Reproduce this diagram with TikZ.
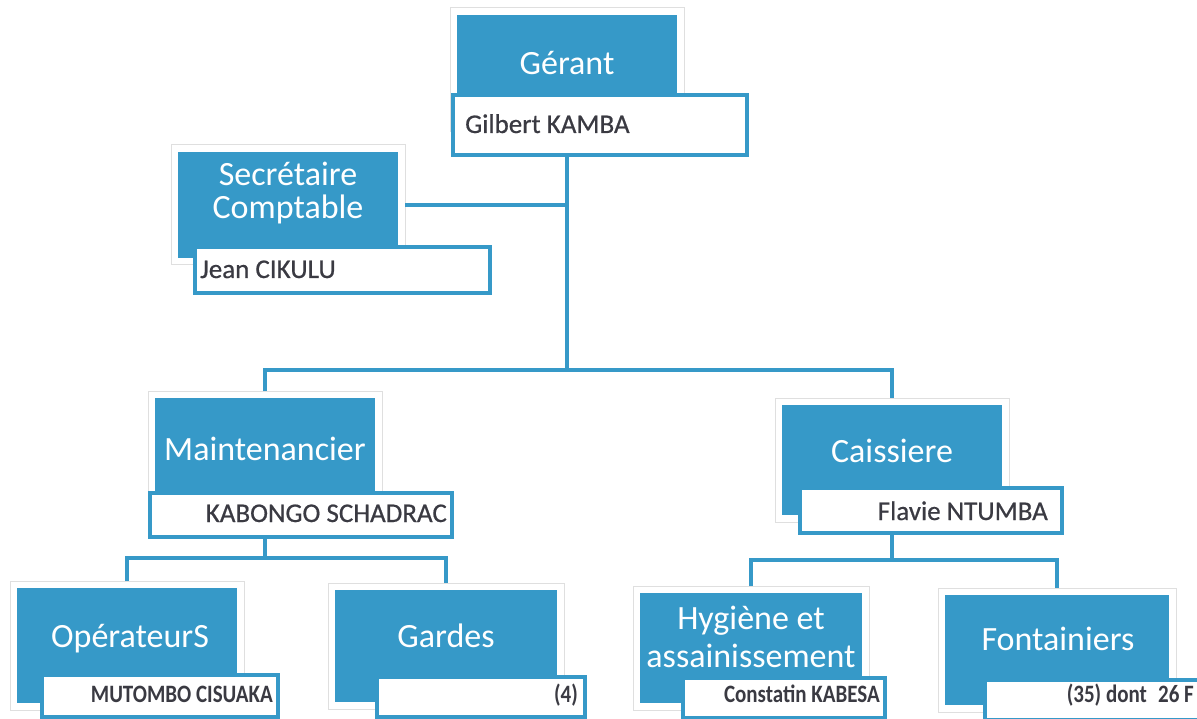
\documentclass[tikz,border=0pt]{standalone}
\usepackage{fontspec}
\setmainfont{Carlito}
\newfontfamily\condfont{Carlito}[FakeStretch=0.84]
\newfontfamily\namefont{Carlito}[FakeBold=0.6]
\definecolor{orgblue}{RGB}{54,153,200}
\definecolor{namecol}{RGB}{58,58,66}
\begin{document}
\begin{tikzpicture}[x=1pt,y=-1pt,
  frame/.style={draw=gray!25, line width=1pt, fill=white, inner sep=0pt, outer sep=0pt, anchor=north west},
  bluebox/.style={fill=orgblue, draw=none, inner sep=0pt, outer sep=0pt, anchor=north west},
  namebox/.style={fill=white, draw=orgblue, line width=3.5pt, inner sep=0pt, outer sep=0pt, anchor=north west},
  titletext/.style={text=white, font=\fontsize{34}{36}\selectfont, align=center, inner sep=0pt, anchor=base},
  namel/.style={text=namecol, font=\namefont\fontsize{27}{30}\selectfont, inner sep=0pt, anchor=base west},
  namer/.style={text=namecol, font=\namefont\fontsize{27}{30}\selectfont, inner sep=0pt, anchor=base east},
  smallname/.style={text=namecol, font=\condfont\bfseries\fontsize{25}{28}\selectfont, inner sep=0pt, anchor=base east},
  link/.style={draw=orgblue, line width=4.5pt, line join=miter}
]
\useasboundingbox[fill=white] (0,0) rectangle (1197,719);

% ---------- Gerant ----------
\node[frame, minimum width=234pt, minimum height=124pt] (gerF) at (450,8) {};
\node[bluebox, minimum width=220pt, minimum height=110pt] (gerB) at (457,15) {};
\node[namebox, minimum width=294pt, minimum height=60pt] (gerN) at (453,95) {};
\node[titletext] (gerT) at (567,75) {Gérant};
\node[namel] (gerP) at (465,133) {Gilbert KAMBA};

% ---------- Secretaire ----------
\node[frame, minimum width=234pt, minimum height=120pt] (secF) at (171,145) {};
\node[bluebox, minimum width=220pt, minimum height=106pt] (secB) at (178,152) {};
\node[namebox, minimum width=295pt, minimum height=46pt] (secN) at (195,247) {};
\node[titletext, font=\fontsize{34}{33}\selectfont, anchor=center] (secT) at (288,193) {Secrétaire\\Comptable};
\node[namel] (secP) at (200,278) {Jean CIKULU};

% ---------- Maintenancier ----------
\node[frame, minimum width=234pt, minimum height=116pt] (mainF) at (148,391) {};
\node[bluebox, minimum width=220pt, minimum height=102pt] (mainB) at (155,398) {};
\node[namebox, minimum width=302pt, minimum height=44pt] (mainN) at (150,493) {};
\node[titletext] (mainT) at (265,460) {Maintenancier};
\node[namer] (mainP) at (447,522) {KABONGO SCHADRAC};

% ---------- Caissiere ----------
\node[frame, minimum width=234pt, minimum height=124pt] (caisF) at (775,398) {};
\node[bluebox, minimum width=220pt, minimum height=110pt] (caisB) at (782,405) {};
\node[namebox, minimum width=262pt, minimum height=45pt] (caisN) at (800,488) {};
\node[titletext] (caisT) at (892,462) {Caissiere};
\node[namer] (caisP) at (1048,520) {Flavie NTUMBA};

% ---------- Operateurs ----------
\node[frame, minimum width=234pt, minimum height=129pt] (opF) at (10,581) {};
\node[bluebox, minimum width=220pt, minimum height=115pt] (opB) at (17,588) {};
\node[namebox, minimum width=236pt, minimum height=42pt] (opN) at (42,675) {};
\node[titletext] (opT) at (130,647) {OpérateurS};
\node[smallname] (opP) at (273,702) {MUTOMBO CISUAKA};

% ---------- Gardes ----------
\node[frame, minimum width=236pt, minimum height=126pt] (garF) at (328,583) {};
\node[bluebox, minimum width=222pt, minimum height=112pt] (garB) at (335,590) {};
\node[namebox, minimum width=208pt, minimum height=40pt] (garN) at (377,677) {};
\node[titletext] (garT) at (446,647) {Gardes};
\node[smallname] (garP) at (578,702) {(4)};

% ---------- Hygiene ----------
\node[frame, minimum width=236pt, minimum height=124pt] (hygF) at (633,586) {};
\node[bluebox, minimum width=222pt, minimum height=110pt] (hygB) at (640,593) {};
\node[namebox, minimum width=202pt, minimum height=40pt] (hygN) at (683,678) {};
\node[titletext, font=\fontsize{34}{38}\selectfont, anchor=center] (hygT) at (751,637) {Hygiène et\\assainissement};
\node[smallname] (hygP) at (880,702) {Constatin KABESA};

% ---------- Fontainiers ----------
\node[frame, minimum width=238pt, minimum height=124pt] (fonF) at (938,588) {};
\node[bluebox, minimum width=224pt, minimum height=110pt] (fonB) at (945,595) {};
\node[namebox, minimum width=220pt, minimum height=40pt] (fonN) at (985,680) {};
\node[titletext] (fonT) at (1058,650) {Fontainiers};
\node[smallname] (fonP) at (1194,702) {(35) dont\hspace{0.45em}26 F};

% ---------- connectors ----------
\coordinate (jTop) at (567,370);
\coordinate (jLeft) at (265,558);
\coordinate (jRight) at (892,560);

\draw[link] (gerB.south |- gerN.south) -- (jTop);
\draw[link] (secF.east) -- (secF.east -| jTop);
\draw[link] (mainF.north) -- (mainF.north |- jTop) -- (caisF.north |- jTop) -- (caisF.north);

\draw[link] (mainB.south |- mainN.south) -- (jLeft);
\draw[link] (opF.north) -- (opF.north |- jLeft) -- (garF.north |- jLeft) -- (garF.north);

\draw[link] (caisB.south |- caisN.south) -- (jRight);
\draw[link] (hygF.north) -- (hygF.north |- jRight) -- (fonF.north |- jRight) -- (fonF.north);
\end{tikzpicture}
\end{document}
